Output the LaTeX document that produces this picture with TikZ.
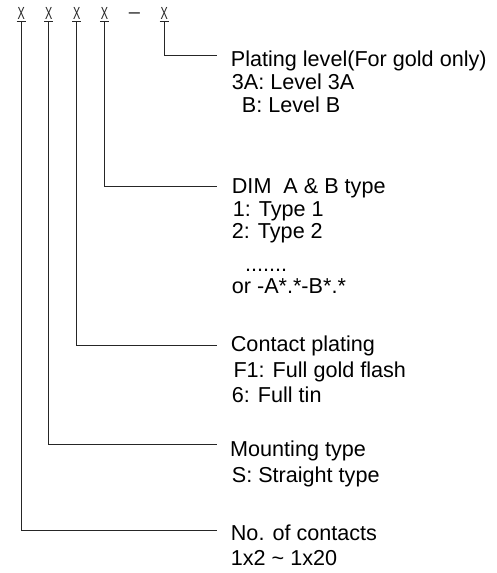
\documentclass[tikz,border=0pt]{standalone}
\usepackage{fontspec}
\setmainfont{Liberation Sans}
\begin{document}
\begin{tikzpicture}[x=1pt,y=-1pt,
  lbl/.style={anchor=base west, inner sep=0pt, font=\fontsize{21.6}{24}\selectfont, text=black},
  xmark/.style={anchor=base, inner sep=0pt, font=\fontsize{17.5}{18}\selectfont, text=black!85},
  conn/.style={draw=black!85, line width=0.9pt},
  uline/.style={draw=black!85, line width=0.8pt}]
\useasboundingbox (0,0) rectangle (496,573);

% code letters
\node[xmark] (x1) at (21.3,19.2) {\scalebox{0.62}[1]{X}};
\node[xmark] (x2) at (48.7,19.2) {\scalebox{0.62}[1]{X}};
\node[xmark] (x3) at (76.7,19.2) {\scalebox{0.62}[1]{X}};
\node[xmark] (x4) at (104.5,19.2) {\scalebox{0.62}[1]{X}};
\node[xmark, font=\fontsize{20}{20}\selectfont] (dash) at (134.5,18.8) {–};
\node[xmark] (x5) at (164.3,19.2) {\scalebox{0.62}[1]{X}};

\foreach \n in {x1,x2,x3,x4,x5}{
  \draw[uline] ([shift={(-0.8pt,-2pt)}]\n.south west) -- ([shift={(0.8pt,-2pt)}]\n.south east);
}

% connector ends
\coordinate (e5) at (216.7,55);
\coordinate (e4) at (216.7,186);
\coordinate (e3) at (216.7,345.3);
\coordinate (e2) at (216.7,444.7);
\coordinate (e1) at (216.7,530.3);

\draw[conn] ([yshift=-2pt]x5.south) |- (e5);
\draw[conn] ([yshift=-2pt]x4.south) |- (e4);
\draw[conn] ([yshift=-2pt]x3.south) |- (e3);
\draw[conn] ([yshift=-2pt]x2.south) |- (e2);
\draw[conn] ([yshift=-2pt]x1.south) |- (e1);

% plating level
\node[lbl] (p1) at (230.7,66) {Plating level(For gold only)};
\node[lbl] (p2) at (231.7,89.3) {3A: Level 3A};
\node[lbl] (p3) at (241.7,112.7) {B: Level B};

% DIM
\node[lbl] (d1) at (231.7,193.3) {DIM\ \ A \& B type};
\node[lbl] (d2) at (232.7,216) {1: Type 1};
\node[lbl] (d3) at (231.7,238.3) {2: Type 2};
\node[lbl] (d4) at (245,271.7) {.......};
\node[lbl] (d5) at (231.7,293.3) {or -A*.*-B*.*};

% contact plating
\node[lbl] (c1) at (230.7,351.7) {Contact plating};
\node[lbl] (c2) at (233.3,377.3) {F1: Full gold flash};
\node[lbl] (c3) at (231.7,402.7) {6: Full tin};

% mounting
\node[lbl] (m1) at (230,456.7) {Mounting type};
\node[lbl] (m2) at (231.7,482.3) {S: Straight type};

% contacts
\node[lbl] (n1) at (230.7,540) {No. of contacts};
\node[lbl] (n2) at (230.7,565) {1x2 \textasciitilde{} 1x20};
\end{tikzpicture}
\end{document}
